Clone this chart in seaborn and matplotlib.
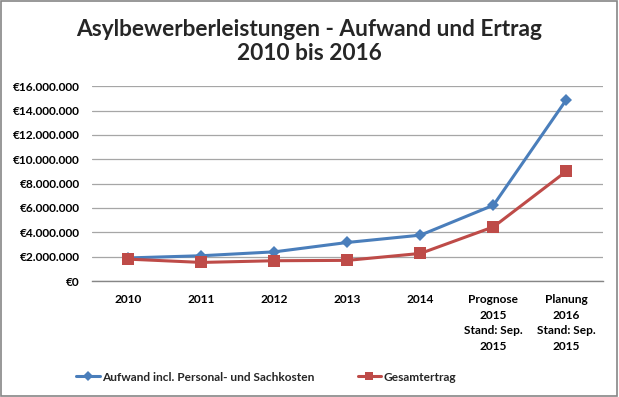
import pandas as pd
import matplotlib.pyplot as plt
import seaborn as sns
from matplotlib.ticker import FuncFormatter
from matplotlib.patches import Rectangle

categories = ["2010", "2011", "2012", "2013", "2014",
              "Prognose\n2015\nStand: Sep.\n2015", "Planung\n2016\nStand: Sep.\n2015"]
aufwand = [1900000, 2080000, 2400000, 3170000, 3770000, 6230000, 14900000]
ertrag = [1800000, 1530000, 1670000, 1700000, 2270000, 4450000, 9020000]

sns.set_theme(style="white")
plt.rcParams['font.family'] = ['Lato', 'DejaVu Sans']

df = pd.DataFrame({"Jahr": categories, "Aufwand": aufwand, "Ertrag": ertrag})

fig = plt.figure(figsize=(6.19, 3.97), dpi=100)
ax = fig.add_axes([0.1486, 0.292, 0.8255, 0.491])

sns.lineplot(data=df, x="Jahr", y="Aufwand", ax=ax, color="#4a7ebb", linewidth=2.2,
             marker="D", markersize=6, markeredgewidth=0, label="Aufwand incl. Personal- und Sachkosten")
sns.lineplot(data=df, x="Jahr", y="Ertrag", ax=ax, color="#be4b48", linewidth=2.2,
             marker="s", markersize=8, markeredgewidth=0, label="Gesamtertrag")

ax.set_ylim(0, 16000000)
ax.set_xlim(-0.5, 6.5)
ax.set_yticks(range(0, 16000001, 2000000))
ax.yaxis.set_major_formatter(FuncFormatter(lambda v, p: "€" + f"{int(v):,}".replace(",", ".")))
ax.grid(axis="y", color="#a6a6a6", linewidth=0.9)
ax.set_axisbelow(True)
for s in ["left", "right", "top"]:
    ax.spines[s].set_visible(False)
ax.spines["bottom"].set_color("#868686")
ax.spines["bottom"].set_linewidth(1)
ax.set_xlabel("")
ax.set_ylabel("")
ax.tick_params(axis="both", length=0, labelsize=8.6)
ax.tick_params(axis="x", pad=9)
ax.tick_params(axis="y", pad=9)
for lab in ax.get_xticklabels() + ax.get_yticklabels():
    lab.set_fontweight("bold")
    lab.set_color("black")
for lab in ax.get_xticklabels():
    lab.set_verticalalignment("top")
    lab.set_linespacing(1.55)

handles, labels = ax.get_legend_handles_labels()
ax.get_legend().remove()
fig.legend(handles, labels, loc="center", bbox_to_anchor=(0.43, 0.05), ncol=2, frameon=False,
           prop={"weight": "bold", "size": 8.6}, columnspacing=3.6, handlelength=2.0,
           handletextpad=0.2, markerscale=0.8)

fig.text(0.5, 0.895, "Asylbewerberleistungen - Aufwand und Ertrag\n2010 bis 2016",
         ha="center", va="center", fontsize=16.3, fontweight="bold", linespacing=1.2)

fig.patches.append(Rectangle((0.002, 0.003), 0.995, 0.994, transform=fig.transFigure,
                             fill=False, edgecolor="#868686", linewidth=1.2))

fig.savefig("out.png", dpi=100)
